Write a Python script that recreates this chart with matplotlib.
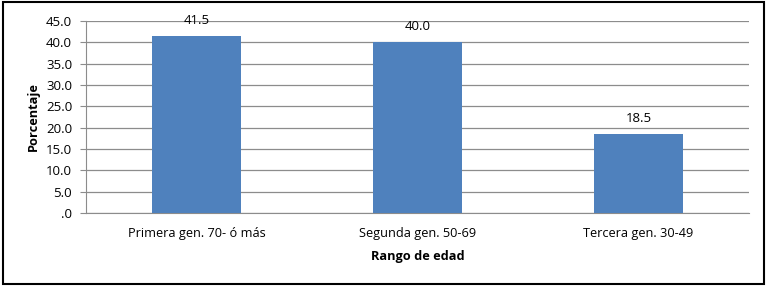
import matplotlib
matplotlib.use("Agg")
import matplotlib.pyplot as plt
from matplotlib.patches import Rectangle

categories = ["Primera gen. 70- ó más", "Segunda gen. 50-69", "Tercera gen. 30-49"]
values = [41.5, 40.0, 18.5]
yticks = [0, 5, 10, 15, 20, 25, 30, 35, 40, 45]
ytick_labels = [".0", "5.0", "10.0", "15.0", "20.0", "25.0", "30.0", "35.0", "40.0", "45.0"]

plt.rcParams['font.family'] = ['Open Sans', 'DejaVu Sans']

fig = plt.figure(figsize=(7.73, 2.90), dpi=100)
ax = fig.add_axes([86/773, 1 - 213/290, (749 - 86)/773, (213 - 21)/290])

x = list(range(len(categories)))
bars = ax.bar(x, values, width=0.4, color="#4f81bd", zorder=3)
for xi, v in zip(x, values):
    ax.text(xi, v + 2.1, "%.1f" % v, ha="center", va="bottom", fontsize=9.5, zorder=4)

ax.set_xlim(-0.5, 2.5)
ax.set_ylim(0, 45)
ax.set_yticks(yticks)
ax.set_yticklabels(ytick_labels, fontsize=9.5)
ax.set_xticks(x)
ax.set_xticklabels(categories, fontsize=9.2)
ax.tick_params(axis="x", length=0, pad=10)
ax.tick_params(axis="y", length=4, color="#8c8c8c", pad=6)
ax.grid(axis="y", color="#8c8c8c", linewidth=0.9, zorder=0)
for s in ["top", "right"]:
    ax.spines[s].set_visible(False)
ax.spines["left"].set_color("#8c8c8c")
ax.spines["bottom"].set_color("#8c8c8c")

ax.set_ylabel("Porcentaje", fontsize=9.2, fontweight="bold", labelpad=4)
ax.set_xlabel("Rango de edad", fontsize=9.2, fontweight="bold", labelpad=7)

fig.patches.append(Rectangle((3/773, 6/290), 761/773, 282/290, transform=fig.transFigure,
                             fill=False, edgecolor="black", linewidth=1.5))

fig.savefig("out.png", dpi=100)
